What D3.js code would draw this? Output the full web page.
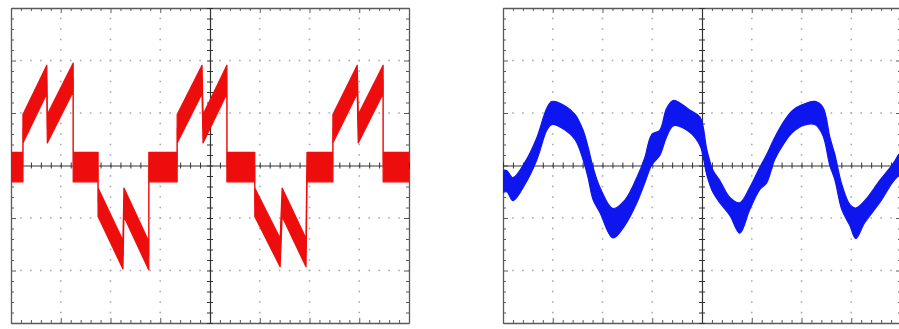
<!DOCTYPE html>
<html>
<head>
<meta charset="utf-8">
<script src="https://cdn.jsdelivr.net/npm/d3@7"></script>
<style>
  html, body { margin: 0; padding: 0; background: #fff; }
  svg { display: block; }
</style>
</head>
<body>
<svg id="chart" width="899" height="329"></svg>
<script>
// ---- Data (time in divisions 0..8, amplitude in divisions -3..3) ----
// Left trace (red): stepped sawtooth current
const redT = [0, 0.24, 0.24, 0.72, 0.73, 1.25, 1.25, 1.75, 1.75, 2.25, 2.27, 2.77, 2.77, 3.34, 3.34, 3.84, 3.86, 4.34, 4.34, 4.90, 4.90, 5.41, 5.45, 5.93, 5.95, 6.47, 6.47, 6.96, 6.98, 7.48, 7.48, 8.00];
const redV = [-0.03, -0.03, 0.70, 1.64, 0.70, 1.68, -0.03, -0.03, -0.70, -1.70, -0.70, -1.72, -0.03, -0.03, 0.70, 1.64, 0.70, 1.64, -0.03, -0.03, -0.70, -1.66, -0.70, -1.66, -0.03, -0.03, 0.70, 1.64, 0.70, 1.64, -0.03, -0.03];
const redN = [0.28, 0.28, 0.27, 0.27, 0.27, 0.27, 0.28, 0.28, 0.27, 0.27, 0.27, 0.27, 0.28, 0.28, 0.27, 0.27, 0.27, 0.27, 0.28, 0.28, 0.27, 0.27, 0.27, 0.27, 0.28, 0.28, 0.27, 0.27, 0.27, 0.27, 0.28, 0.28];

// Right trace (blue): distorted sine voltage
const blueT = [0, 0.08, 0.20, 0.44, 0.68, 0.88, 0.98, 1.24, 1.45, 1.61, 1.71, 1.81, 1.95, 2.21, 2.45, 2.69, 2.85, 2.99, 3.15, 3.29, 3.43, 3.76, 3.96, 4.10, 4.22, 4.36, 4.56, 4.76, 4.96, 5.16, 5.30, 5.46, 5.66, 5.82, 6.02, 6.27, 6.43, 6.57, 6.67, 6.81, 6.97, 7.09, 7.27, 7.57, 7.83, 7.95];
const blueV = [-0.30, -0.30, -0.45, -0.15, 0.32, 0.88, 1.00, 0.91, 0.73, 0.39, 0.06, -0.34, -0.66, -1.10, -0.90, -0.47, -0.09, 0.30, 0.43, 0.82, 1.00, 0.84, 0.65, 0.05, -0.30, -0.50, -0.78, -1.00, -0.63, -0.25, -0.06, 0.32, 0.65, 0.84, 0.96, 1.00, 0.84, 0.27, -0.03, -0.60, -0.94, -1.10, -0.88, -0.50, -0.15, 0.01];
const blueN = [0.21, 0.20, 0.22, 0.21, 0.21, 0.21, 0.22, 0.23, 0.24, 0.28, 0.29, 0.31, 0.24, 0.28, 0.24, 0.24, 0.24, 0.29, 0.24, 0.27, 0.24, 0.21, 0.27, 0.24, 0.21, 0.21, 0.17, 0.29, 0.21, 0.21, 0.27, 0.21, 0.21, 0.21, 0.20, 0.22, 0.27, 0.27, 0.24, 0.24, 0.20, 0.29, 0.21, 0.21, 0.17, 0.20];

// Graticule: 8 x 6 divisions, 5 minor steps per division
const xDivs = d3.range(0, 9);
const yDivs = d3.range(-3, 4);
const xMinor = d3.range(0, 40.001).map(i => i / 5);
const yMinor = d3.range(-15, 15.001).map(i => i / 5);

const svg = d3.select("#chart");
svg.append("rect").attr("width", 899).attr("height", 329).attr("fill", "#fff");
const defs = svg.append("defs");
defs.append("filter").attr("id", "soft").attr("x", "-5%").attr("y", "-5%").attr("width", "110%").attr("height", "110%")
  .append("feGaussianBlur").attr("stdDeviation", 0.6);

function panel(px0, px1, py0, py1, T, V, N, color, curve, centerLine) {
  const x = d3.scaleLinear().domain([0, 8]).range([px0, px1]);
  const y = d3.scaleLinear().domain([-3, 3]).range([py1, py0]);
  const g = svg.append("g");
  const sx = (x(1) - x(0)) / 5, sy = (y(0) - y(1)) / 5;

  // dotted grid
  g.selectAll(".gv").data(xDivs.filter(d => d > 0 && d < 8 && d !== 4)).join("line")
    .attr("x1", d => x(d)).attr("x2", d => x(d)).attr("y1", py0).attr("y2", py1)
    .attr("stroke", "#a8a8a8").attr("stroke-width", 1.6)
    .attr("stroke-dasharray", `1.6 ${sy - 1.6}`).attr("stroke-dashoffset", 0.8);
  g.selectAll(".gh").data(yDivs.filter(d => d > -3 && d < 3 && d !== 0)).join("line")
    .attr("y1", d => y(d)).attr("y2", d => y(d)).attr("x1", px0).attr("x2", px1)
    .attr("stroke", "#a8a8a8").attr("stroke-width", 1.6)
    .attr("stroke-dasharray", `1.6 ${sx - 1.6}`).attr("stroke-dashoffset", 0.8);

  const axStyle = sel => {
    sel.selectAll("path").attr("stroke", "#5a5a5a").attr("stroke-width", 1.3);
    sel.selectAll("line").attr("stroke", "#5a5a5a").attr("stroke-width", 1);
    sel.selectAll("text").remove();
  };
  const isMajor = d => Math.abs(d - Math.round(d)) < 1e-6;

  // border with inward ticks
  g.append("g").attr("transform", `translate(0,${py0})`)
    .call(d3.axisBottom(x).tickValues(xMinor).tickSizeOuter(0).tickFormat(""))
    .call(axStyle).selectAll(".tick line").attr("y2", d => isMajor(d) ? 5 : 3);
  g.append("g").attr("transform", `translate(0,${py1})`)
    .call(d3.axisTop(x).tickValues(xMinor).tickSizeOuter(0).tickFormat(""))
    .call(axStyle).selectAll(".tick line").attr("y2", d => isMajor(d) ? -5 : -3);
  g.append("g").attr("transform", `translate(${px0},0)`)
    .call(d3.axisRight(y).tickValues(yMinor).tickSizeOuter(0).tickFormat(""))
    .call(axStyle).selectAll(".tick line").attr("x2", d => isMajor(d) ? 5 : 3);
  g.append("g").attr("transform", `translate(${px1},0)`)
    .call(d3.axisLeft(y).tickValues(yMinor).tickSizeOuter(0).tickFormat(""))
    .call(axStyle).selectAll(".tick line").attr("x2", d => isMajor(d) ? -5 : -3);

  // center crosshair with ticks on both sides
  const ch = g.append("g").attr("transform", `translate(0,${y(0)})`)
    .call(d3.axisBottom(x).tickValues(xMinor).tickSizeOuter(0).tickFormat(""))
    .call(axStyle);
  ch.select("path").attr("stroke", "#333").attr("stroke-width", 1.2);
  ch.selectAll(".tick line").attr("y1", -3).attr("y2", 3).attr("stroke", "#333");
  const cv = g.append("g").attr("transform", `translate(${x(4)},0)`)
    .call(d3.axisRight(y).tickValues(yMinor).tickSizeOuter(0).tickFormat(""))
    .call(axStyle);
  cv.select("path").attr("stroke", "#333").attr("stroke-width", 1.2);
  cv.selectAll(".tick line").attr("x1", -3).attr("x2", 3).attr("stroke", "#333");

  // trace
  const data = T.map((t, i) => ({ t, v: V[i], n: N[i] }));
  const clipId = "clip" + Math.round(px0);
  defs.append("clipPath").attr("id", clipId).append("rect")
    .attr("x", px0).attr("y", py0).attr("width", px1 - px0).attr("height", py1 - py0);
  const tg = svg.append("g").attr("clip-path", `url(#${clipId})`).append("g").attr("filter", "url(#soft)");
  if (centerLine) {
    tg.append("path").datum(data)
      .attr("d", d3.line().x(d => x(d.t)).y(d => y(d.v)))
      .attr("fill", "none").attr("stroke", "#f07a7a").attr("stroke-width", 1.2);
  }
  tg.append("path").datum(data)
    .attr("d", d3.area().curve(curve).x(d => x(d.t)).y0(d => y(d.v - d.n)).y1(d => y(d.v + d.n)))
    .attr("fill", color).attr("stroke", color).attr("stroke-width", 1.2).attr("stroke-linejoin", "round");
}

panel(11, 409, 8, 323, redT, redV, redN, "#ee0a0a", d3.curveLinear, true);
panel(503, 901, 8, 323, blueT, blueV, blueN, "#0c14ee", d3.curveCatmullRom.alpha(0.5), false);
</script>
</body>
</html>
